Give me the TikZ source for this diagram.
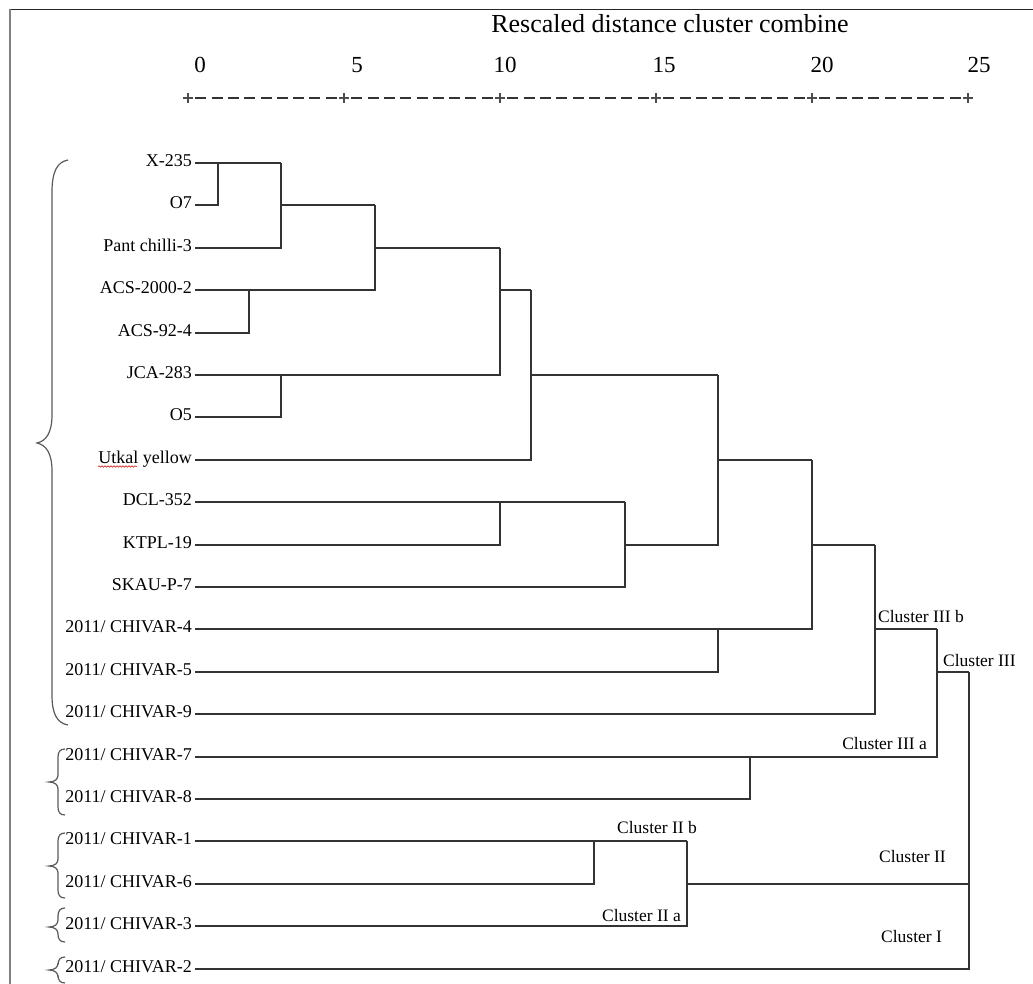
\documentclass[tikz,border=0pt]{standalone}
\usepackage{fontspec}
\setmainfont{Liberation Serif}
\usetikzlibrary{calc,decorations.pathmorphing}

\begin{document}
\begin{tikzpicture}[x=1pt,y=-1pt, every node/.style={inner sep=0pt},
  leaf/.style={anchor=east,inner xsep=3pt,text height=13pt,text depth=6pt,font=\fontsize{18}{21}\selectfont},
  tag/.style={font=\fontsize{17.5}{20}\selectfont},
  tick/.style={font=\fontsize{23}{26}\selectfont},
  link/.style={black!80,line width=2pt},
  brace/.style={black!65,line width=1.2pt}]
  \useasboundingbox (0,0) rectangle (1033,984);
  \clip (0,0) rectangle (1033,984);
  \draw[black!85,line width=1.8pt] (1033,9.5) -- (10,9.5);
  \draw[black!50,line width=2.2pt] (10,9.5) -- (10,984);

  \node[font=\fontsize{26}{30}\selectfont] (title) at (670,24) {Rescaled distance cluster combine};
  \foreach \k/\v/\tx in {0/0/200,1/5/357,2/10/505,3/15/664,4/20/822,5/25/979} {
    \node[tick] (t\k) at (\tx,65) {\v};
    \coordinate (p\k) at ({188+156*\k},98);
    \draw[black!70,line width=1.2pt] (p\k) +(-4.6,0) -- +(4.6,0) +(0,-5) -- +(0,5);
  }
  \foreach \k [evaluate=\k as \j using int(\k+1)] in {0,...,4}
    \draw[black!80,line width=1.4pt,dash pattern=on 11pt off 5.3pt]
      ($(p\k)+(7.3,0)$) -- ($(p\j)+(-7.3,0)$);

  \foreach \lab/\ry [count=\i] in {X-235/163,O7/205,Pant chilli-3/248,ACS-2000-2/290,ACS-92-4/333,
      JCA-283/375,O5/417,Utkal yellow/460,DCL-352/502,KTPL-19/545,SKAU-P-7/587,
      {2011/ CHIVAR-4}/629,{2011/ CHIVAR-5}/672,{2011/ CHIVAR-9}/714,{2011/ CHIVAR-7}/757,
      {2011/ CHIVAR-8}/799,{2011/ CHIVAR-1}/841,{2011/ CHIVAR-6}/884,{2011/ CHIVAR-3}/926,{2011/ CHIVAR-2}/969}
    \node[leaf] (n\i) at (195,\ry) {\lab};
  \draw[red!80!black,line width=.5pt,decorate,decoration={snake,amplitude=.8pt,segment length=3pt}]
    ($(n8.base west)+(3,3)$) -- ++(39,0);

  \coordinate (m1) at (218,163);
  \coordinate (m2) at (281,163);
  \coordinate (m3) at (249,290);
  \coordinate (m4) at (375,205);
  \coordinate (m5) at (281,375);
  \coordinate (m6) at (500,248);
  \coordinate (m7) at (531,290);
  \coordinate (m8) at (500,502);
  \coordinate (m9) at (625,502);
  \coordinate (m10) at (718,375);
  \coordinate (m11) at (718,629);
  \coordinate (m12) at (812,460);
  \coordinate (m13) at (875,545);
  \coordinate (m14) at (750,757);
  \coordinate (m15) at (937,629);
  \coordinate (m16) at (594,841);
  \coordinate (m17) at (687,841);
  \coordinate (m18) at (969,672);

  \draw[link] (n1.east) -- (m2);
  \draw[link] (n2.east) -| (m1);
  \draw[link] (n3.east) -| (m2);
  \draw[link] (n4.east) -| (m4);
  \draw[link] (n5.east) -| (m3);
  \draw[link] (m2 |- n2.east) -- (m4);
  \draw[link] (n6.east) -| (m6);
  \draw[link] (n7.east) -| (m5);
  \draw[link] (m4 |- n3.east) -- (m6);
  \draw[link] (n8.east) -| (m7);
  \draw[link] (m6 |- n4.east) -- (m7);
  \draw[link] (n9.east) -- (m9);
  \draw[link] (n10.east) -| (m8);
  \draw[link] (n11.east) -| (m9);
  \draw[link] (m7 |- n6.east) -- (m10);
  \draw[link] (m9 |- n10.east) -| (m10);
  \draw[link] (n12.east) -| (m12);
  \draw[link] (n13.east) -| (m11);
  \draw[link] (m10 |- n8.east) -- (m12);
  \draw[link] (n14.east) -| (m13);
  \draw[link] (m12 |- n10.east) -- (m13);
  \draw[link] (n15.east) -| (m15);
  \draw[link] (n16.east) -| (m14);
  \draw[link] (m13 |- n12.east) -- (m15);
  \draw[link] (m15 |- n13.east) -- (m18);
  \draw[link] (n17.east) -- (m17);
  \draw[link] (n18.east) -| (m16);
  \draw[link] (n19.east) -| (m17);
  \draw[link] (m17 |- n18.east) -- (m18 |- n18.east);
  \draw[link] (n20.east) -| (m18);

  \node[tag,anchor=west] (c3b) at (878,617) {Cluster III b};
  \node[tag,anchor=west] (c3) at (943,661) {Cluster III};
  \node[tag,anchor=east] (c3a) at (927,744) {Cluster III a};
  \node[tag,anchor=west] (c2b) at (617,828) {Cluster II b};
  \node[tag,anchor=west] (c2) at (879,857) {Cluster II};
  \node[tag,anchor=east] (c2a) at (681,916) {Cluster II a};
  \node[tag,anchor=west] (c1) at (881,937) {Cluster I};

  \draw[brace] (68,160) .. controls (57,162) and (52,172) .. (52,192) -- (52,415)
    .. controls (52,433) and (46,441) .. (37,443) .. controls (46,445) and (52,453) .. (52,471)
    -- (52,695) .. controls (52,714) and (57,723) .. (68,725);
  \foreach \t/\m/\b in {749/782/815,833/866/898,908/927/942,957/970/983}
    \draw[brace] (65,\t) .. controls (60,\t) and (58,\t+3) .. (58,\t+8) -- (58,\m-7)
      .. controls (58,\m-3) and (55,\m) .. (49,\m) .. controls (55,\m) and (58,\m+3) .. (58,\m+7)
      -- (58,\b-8) .. controls (58,\b-3) and (60,\b) .. (65,\b);
\end{tikzpicture}
\end{document}
